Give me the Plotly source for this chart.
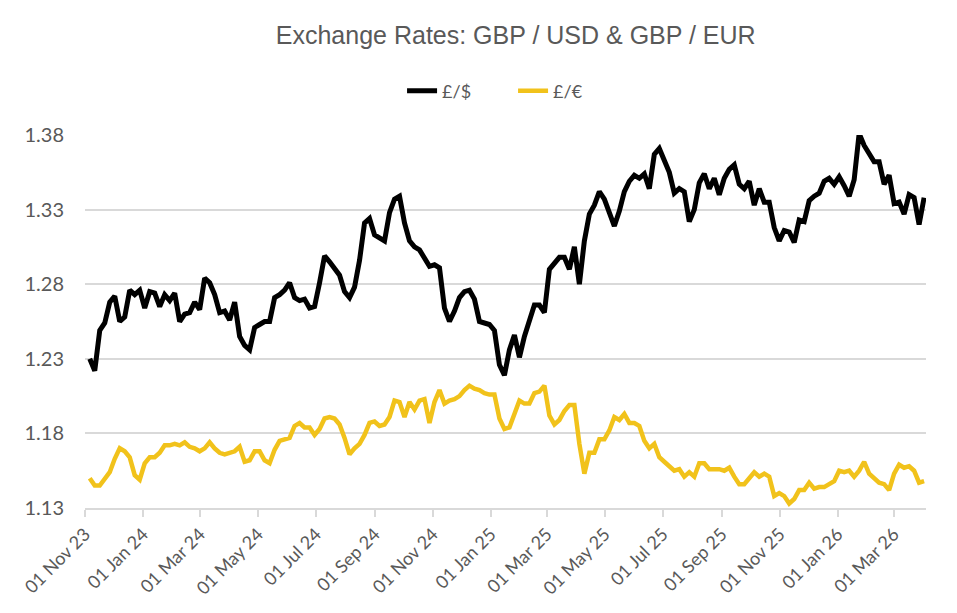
import pandas as pd
import plotly.graph_objects as go

# GBP/USD and GBP/EUR, roughly every 5 days from early Nov 2023 to early Apr 2026
gbp_usd = [
    1.230, 1.222, 1.249, 1.254, 1.268, 1.272, 1.255, 1.258, 1.276, 1.273,
    1.276, 1.264, 1.275, 1.274, 1.265, 1.273, 1.269, 1.274, 1.255, 1.260,
    1.261, 1.268, 1.263, 1.284, 1.281, 1.273, 1.261, 1.262, 1.256, 1.268,
    1.245, 1.239, 1.236, 1.251, 1.253, 1.255, 1.255, 1.271, 1.273, 1.276,
    1.281, 1.271, 1.269, 1.270, 1.264, 1.265, 1.281, 1.299, 1.295, 1.291,
    1.286, 1.275, 1.271, 1.278, 1.296, 1.321, 1.324, 1.313, 1.311, 1.309,
    1.328, 1.337, 1.339, 1.321, 1.309, 1.305, 1.303, 1.298, 1.292, 1.293,
    1.291, 1.264, 1.255, 1.262, 1.271, 1.275, 1.276, 1.270, 1.255, 1.254,
    1.253, 1.249, 1.226, 1.219, 1.236, 1.246, 1.231, 1.245, 1.255, 1.266,
    1.266, 1.261, 1.290, 1.294, 1.298, 1.298, 1.290, 1.305, 1.280, 1.309,
    1.327, 1.333, 1.342, 1.337, 1.329, 1.319, 1.329, 1.342, 1.349, 1.353,
    1.351, 1.354, 1.344, 1.367, 1.371, 1.363, 1.355, 1.341, 1.344, 1.342,
    1.322, 1.330, 1.348, 1.354, 1.344, 1.351, 1.340, 1.351, 1.357, 1.360,
    1.347, 1.344, 1.349, 1.333, 1.344, 1.335, 1.335, 1.318, 1.309, 1.316,
    1.315, 1.308, 1.323, 1.322, 1.336, 1.339, 1.341, 1.349, 1.351, 1.347,
    1.352, 1.346, 1.339, 1.350, 1.381, 1.373, 1.367, 1.362, 1.362, 1.347,
    1.353, 1.334, 1.335, 1.327, 1.340, 1.338, 1.320, 1.338,
]

gbp_eur = [
    1.150, 1.145, 1.145, 1.150, 1.154, 1.163, 1.170, 1.168, 1.164, 1.152,
    1.149, 1.160, 1.164, 1.164, 1.167, 1.172, 1.172, 1.173, 1.172, 1.174,
    1.171, 1.170, 1.168, 1.170, 1.174, 1.170, 1.167, 1.166, 1.167, 1.168,
    1.171, 1.161, 1.162, 1.168, 1.168, 1.162, 1.160, 1.169, 1.175, 1.176,
    1.177, 1.185, 1.187, 1.184, 1.184, 1.179, 1.183, 1.190, 1.191, 1.190,
    1.186, 1.177, 1.166, 1.170, 1.173, 1.179, 1.187, 1.188, 1.185, 1.186,
    1.191, 1.202, 1.201, 1.191, 1.201, 1.196, 1.202, 1.203, 1.187, 1.201,
    1.209, 1.200, 1.202, 1.203, 1.205, 1.209, 1.212, 1.210, 1.209, 1.207,
    1.206, 1.206, 1.190, 1.183, 1.184, 1.193, 1.202, 1.200, 1.200, 1.207,
    1.208, 1.212, 1.192, 1.186, 1.189, 1.195, 1.199, 1.199, 1.173, 1.153,
    1.167, 1.167, 1.176, 1.176, 1.182, 1.191, 1.189, 1.193, 1.187, 1.187,
    1.185, 1.175, 1.170, 1.173, 1.164, 1.161, 1.158, 1.155, 1.156, 1.151,
    1.154, 1.151, 1.160, 1.160, 1.156, 1.156, 1.156, 1.155, 1.157, 1.151,
    1.146, 1.146, 1.150, 1.154, 1.151, 1.153, 1.151, 1.138, 1.140, 1.138,
    1.133, 1.136, 1.142, 1.142, 1.147, 1.143, 1.144, 1.144, 1.146, 1.148,
    1.155, 1.154, 1.155, 1.151, 1.155, 1.161, 1.153, 1.150, 1.147, 1.146,
    1.142, 1.153, 1.159, 1.157, 1.158, 1.155, 1.147, 1.148,
]

dates = pd.date_range("2023-11-06", "2026-04-02", periods=len(gbp_usd))

tick_dates = ["2023-11-01", "2024-01-01", "2024-03-01", "2024-05-01", "2024-07-01",
              "2024-09-01", "2024-11-01", "2025-01-01", "2025-03-01", "2025-05-01",
              "2025-07-01", "2025-09-01", "2025-11-01", "2026-01-01", "2026-03-01"]
tick_labels = ["01 Nov 23", "01 Jan 24", "01 Mar 24", "01 May 24", "01 Jul 24",
               "01 Sep 24", "01 Nov 24", "01 Jan 25", "01 Mar 25", "01 May 25",
               "01 Jul 25", "01 Sep 25", "01 Nov 25", "01 Jan 26", "01 Mar 26"]
y_ticks = [1.13, 1.18, 1.23, 1.28, 1.33, 1.38]

grey = "#595959"
grid = "#D9D9D9"

fig = go.Figure()
fig.add_trace(go.Scatter(x=dates, y=gbp_usd, mode="lines", name="£/$",
                         line=dict(color="#000000", width=5)))
fig.add_trace(go.Scatter(x=dates, y=gbp_eur, mode="lines", name="£/€",
                         line=dict(color="#F1C21B", width=4.5)))

# page body has an 8px margin, so the figure is a bit smaller than the window
fig.update_layout(
    width=949, height=605,
    paper_bgcolor="white", plot_bgcolor="white",
    margin=dict(l=75, r=31, t=127, b=105),
    title=dict(text="Exchange Rates: GBP / USD & GBP / EUR",
               x=0.535, xanchor="center", y=1 - 27 / 605, yanchor="middle",
               font=dict(family="Liberation Sans Narrow, Arial Narrow, Liberation Sans",
                         size=25, color=grey)),
    legend=dict(orientation="h", x=0.377, xanchor="left", y=1.118, yanchor="middle",
                font=dict(family="Lato, Liberation Sans", size=18, color=grey),
                entrywidth=66, entrywidthmode="pixels",
                bgcolor="rgba(0,0,0,0)"),
    showlegend=True,
)

fig.update_xaxes(
    type="date", range=["2023-11-01", "2026-04-04"],
    tickvals=tick_dates, ticktext=tick_labels, tickangle=-45,
    tickfont=dict(family="Lato, Liberation Sans", size=18, color=grey),
    showgrid=False, showline=True, linecolor=grid, linewidth=1.5,
    ticks="outside", ticklen=7, tickcolor=grid, tickwidth=1.5,
)
fig.update_yaxes(
    range=[1.13, 1.38], tickvals=y_ticks, tickformat=".2f",
    tickfont=dict(family="Lato, Liberation Sans", size=20, color=grey),
    showgrid=True, gridcolor=grid, gridwidth=1.5, zeroline=False,
    showline=False, ticklabelstandoff=20,
)

fig.write_html("out.html")
